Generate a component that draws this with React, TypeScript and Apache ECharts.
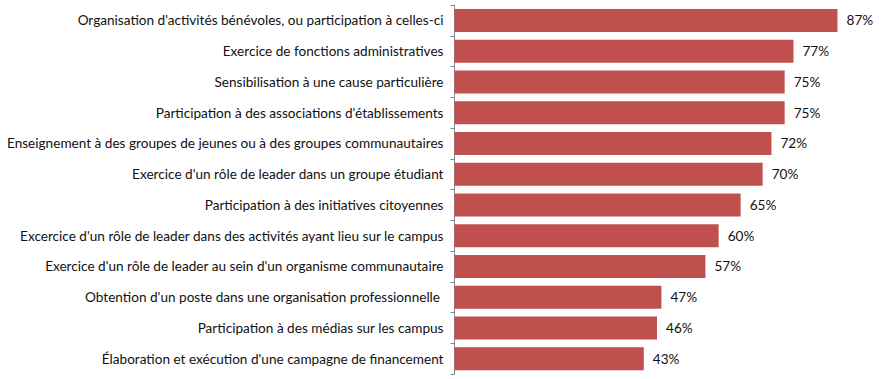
import React, { useEffect, useRef } from "react";
import * as echarts from "echarts";

const categories = [
  "Organisation d'activités bénévoles, ou participation à celles-ci",
  "Exercice de fonctions administratives",
  "Sensibilisation à une cause particulière",
  "Participation à des associations d'établissements",
  "Enseignement à des groupes de jeunes ou à des groupes communautaires",
  "Exercice d'un rôle de leader dans un groupe étudiant",
  "Participation à des initiatives citoyennes",
  "Excercice d'un rôle de leader dans des activités ayant lieu sur le campus",
  "Exercice d'un rôle de leader au sein d'un organisme communautaire",
  "Obtention d'un poste dans une organisation professionnelle ",
  "Participation à des médias sur les campus",
  "Élaboration et exécution d'une campagne de financement",
];
const values = [87, 77, 75, 75, 72, 70, 65, 60, 57, 47, 46, 43];

const FONT = "Lato";

export default function App() {
  const ref = useRef<HTMLDivElement>(null);
  useEffect(() => {
    if (!ref.current) return;
    const chart = echarts.init(ref.current, undefined, { renderer: "svg" });
    chart.setOption({
      animation: false,
      grid: { left: 454.5, right: 30.3, top: 5, bottom: 5, containLabel: false },
      xAxis: {
        type: "value",
        min: 0,
        max: 90,
        show: false,
      },
      yAxis: {
        type: "category",
        data: categories,
        inverse: true,
        axisLine: { show: true, lineStyle: { color: "#868686", width: 1 } },
        axisTick: { show: true, length: 4, lineStyle: { color: "#868686" } },
        axisLabel: { margin: 11, color: "#111111", fontSize: 13.6, fontFamily: FONT },
        splitLine: { show: false },
      },
      series: [
        {
          type: "bar",
          data: values,
          barWidth: 23,
          itemStyle: { color: "#C0504D" },
          label: {
            show: true,
            position: "right",
            distance: 9,
            formatter: "{c}%",
            color: "#111111",
            fontSize: 13.6,
            fontFamily: FONT,
          },
        },
      ],
    });
    return () => chart.dispose();
  }, []);
  return (
    <div
      ref={ref}
      style={{ position: "absolute", left: 0, top: 0, width: 881, height: 379 }}
    />
  );
}
